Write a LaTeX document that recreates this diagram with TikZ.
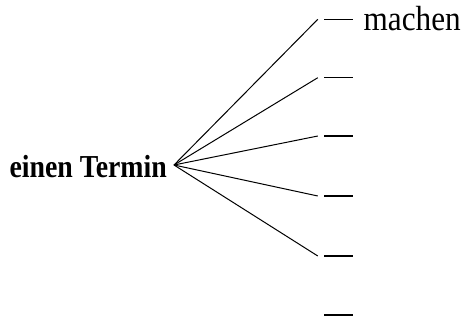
\documentclass[tikz,border=0pt]{standalone}
\usepackage{fontspec}
\setmainfont{Liberation Serif}
\usetikzlibrary{positioning}

\begin{document}
\begin{tikzpicture}[x=1pt, y=-1pt,
    slot/.style={fill=black, minimum width=29pt, minimum height=1.4pt,
                 inner sep=0pt},
    branch/.style={line width=1pt}
  ]
  \useasboundingbox (0,0) rectangle (464,322);

  % Stem word
  \node[font=\fontsize{27.8}{30}\selectfont\bfseries, anchor=base east,
        inner sep=0pt] (termin) at (167,177)
        {\scalebox{1}[1.15]{einen Termin}};
  \coordinate (hub) at ([xshift=7pt,yshift=12pt]termin.base east);

  % Blanks
  \foreach \i/\y in {1/19.3, 2/77.7, 3/136, 4/196, 5/256, 6/315}{
    \node[slot] (s\i) at (338.5,\y) {};
  }

  % Branches
  \foreach \i in {1,...,5}{
    \draw[branch] (hub) -- ([xshift=-6pt]s\i.west);
  }

  % Filled-in verb
  \node[font=\fontsize{31.2}{34}\selectfont, anchor=base west,
        inner sep=0pt] (machen) at (363.5,30)
        {\scalebox{1}[1.12]{machen}};
\end{tikzpicture}
\end{document}
